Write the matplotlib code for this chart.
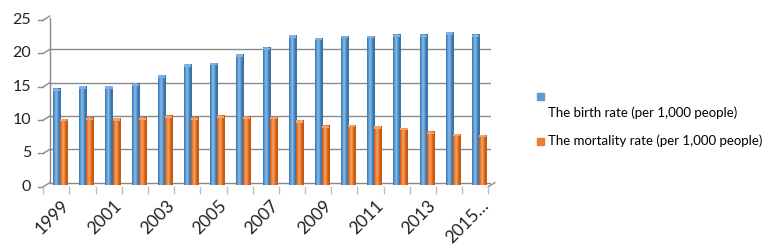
import numpy as np
import matplotlib
matplotlib.use("Agg")
import matplotlib.pyplot as plt
import matplotlib.transforms as mtransforms
from matplotlib.patches import Rectangle
from matplotlib.colors import LinearSegmentedColormap

years = [1999, 2000, 2001, 2002, 2003, 2004, 2005, 2006, 2007, 2008,
         2009, 2010, 2011, 2012, 2013, 2014, 2015]
tick_labels = ["1999", "", "2001", "", "2003", "", "2005", "", "2007", "",
               "2009", "", "2011", "", "2013", "", "2015\u2026"]
birth_rate = [14.4, 14.75, 14.75, 15.15, 16.4, 18.05, 18.25, 19.55, 20.55,
              22.4, 22.0, 22.3, 22.3, 22.5, 22.5, 22.85, 22.5]
mortality_rate = [9.85, 10.05, 9.95, 10.05, 10.35, 10.05, 10.35, 10.2, 10.15,
                  9.65, 8.85, 8.95, 8.75, 8.5, 7.95, 7.6, 7.45]
series_names = ["The birth rate (per 1,000 people)",
                "The mortality rate (per 1,000 people)"]
yticks = [0, 5, 10, 15, 20, 25]

W, H, DPI = 770, 248, 100
fig = plt.figure(figsize=(W / DPI, H / DPI), dpi=DPI)
plt.rcParams['font.family'] = ['Lato', 'DejaVu Sans']

# mid-depth plane
x0px, x1px = 46.3, 491.3
ybot, ytop = 184.7, 18.0
ax = fig.add_axes([x0px / W, (H - ybot) / H, (x1px - x0px) / W, (ybot - ytop) / H])
n = len(years)
ax.set_xlim(-0.5, n - 0.5)
ax.set_ylim(0, 25)
ax.axis("off")

back = mtransforms.offset_copy(ax.transData, fig=fig, x=3.5, y=2.0, units='dots')
front = mtransforms.offset_copy(ax.transData, fig=fig, x=-3.0, y=-2.0, units='dots')
grid_c = "#8a8a8a"


def fline(p, q, color=grid_c, lw=1.0):
    fig.lines.append(plt.Line2D([p[0] / W, q[0] / W], [p[1] / H, q[1] / H],
                                transform=fig.transFigure, color=color, lw=lw))


for v in yticks:
    ax.plot([-0.5, n - 0.5], [v, v], transform=back, color=grid_c, lw=1.0, zorder=1)
    p_front = front.transform((-0.5, v))
    p_back = back.transform((-0.5, v))
    fline(p_front, p_back)
    fline((p_front[0] - 5, p_front[1]), p_front)
    fig.text((p_front[0] - 12) / W, p_front[1] / H, str(v), ha="right", va="center",
             fontsize=11.5, color="#222222")

ax.plot([-0.5, -0.5], [0, 25], transform=back, color=grid_c, lw=1.0, zorder=1)
ax.plot([-0.5, -0.5], [0, 25], transform=front, color="#c8c8c8", lw=0.8, zorder=1)

pf = front.transform((n - 0.5, 0)); pb = back.transform((n - 0.5, 0))
fline(pf, pb)
ax.plot([-0.5, n - 0.5], [0, 0], transform=front, color="#bdbdbd", lw=1.0, zorder=1)

for i in range(n + 1):
    p = front.transform((i - 0.5, 0))
    fline(p, (p[0], p[1] - 6), color="#bdbdbd")

x = np.arange(n)
bw = 0.27
off = 0.03


def shaded(dark, mid, light):
    return LinearSegmentedColormap.from_list("c", [dark, mid, light, mid, dark])


cm_b = shaded("#3a73a8", "#5b9bd5", "#8cbbe6")
cm_o = shaded("#c55a11", "#ed7d31", "#f6a46a")
grad = np.clip(np.linspace(0, 1, 32).reshape(1, -1) * 1.25, 0, 1)
for vals, xs, cm, top in [(birth_rate, x - bw / 2 + off, cm_b, "#7fb2e0"),
                          (mortality_rate, x + bw / 2 + off, cm_o, "#f4a46b")]:
    bars = ax.bar(xs, vals, width=bw, color="none", zorder=3)
    for b in bars:
        bx, bwid, bh = b.get_x(), b.get_width(), b.get_height()
        ax.imshow(grad, cmap=cm, aspect="auto", extent=[bx, bx + bwid, 0, bh],
                  zorder=3, interpolation="bilinear")
        ax.add_patch(Rectangle((bx, bh - 0.35), bwid, 0.35, color=top, zorder=4, lw=0))
ax.set_xlim(-0.5, n - 0.5)
ax.set_ylim(0, 25)

for i, lab in enumerate(tick_labels):
    if not lab:
        continue
    p = front.transform((i, 0))
    fig.text((p[0] + 5) / W, (p[1] - 11) / H, lab, rotation=45, ha="right", va="top",
             rotation_mode="anchor", fontsize=12.5, color="#222222")

fig.patches.append(Rectangle((537 / W, (H - 99.5) / H), 7 / W, 7 / H,
                             transform=fig.transFigure, color="#5b9bd5"))
fig.text(548 / W, (H - 113) / H, series_names[0], ha="left", va="center",
         fontsize=9.5, color="#000000")
fig.patches.append(Rectangle((537 / W, (H - 144.5) / H), 7 / W, 7 / H,
                             transform=fig.transFigure, color="#ed7d31"))
fig.text(548 / W, (H - 141) / H, series_names[1], ha="left", va="center",
         fontsize=9.5, color="#000000")

fig.savefig("out.png", dpi=DPI)
